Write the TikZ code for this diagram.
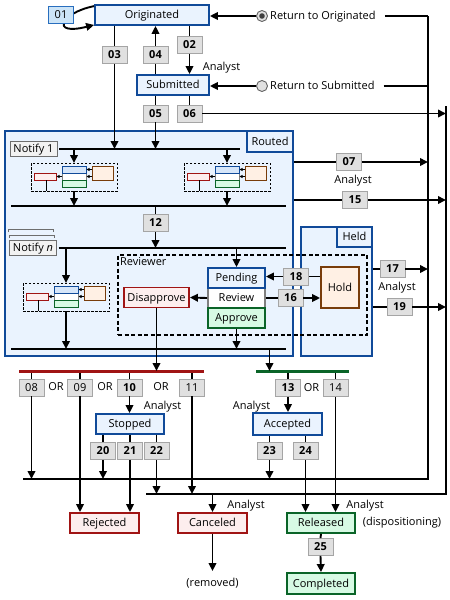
\documentclass[tikz,border=0pt]{standalone}
\usepackage{fontspec}
\setmainfont{Open Sans}
\usetikzlibrary{arrows.meta}

\definecolor{stblue}{RGB}{16,74,153}
\definecolor{stfill}{RGB}{234,243,254}
\definecolor{numline}{RGB}{165,165,165}
\definecolor{numfill}{RGB}{224,224,224}
\definecolor{oneline}{RGB}{40,110,190}
\definecolor{onefill}{RGB}{204,228,247}
\definecolor{rdline}{RGB}{160,20,20}
\definecolor{rdfill}{RGB}{253,238,238}
\definecolor{gnline}{RGB}{10,100,40}
\definecolor{gnfill}{RGB}{215,250,228}
\definecolor{orline}{RGB}{120,60,10}
\definecolor{orfill}{RGB}{255,240,228}
\definecolor{blfill}{RGB}{214,230,250}
\definecolor{nfline}{RGB}{110,110,110}
\definecolor{nffill}{RGB}{242,242,242}
\definecolor{radline}{RGB}{100,100,100}
\definecolor{radfill}{RGB}{225,225,225}

\newcommand{\dgfont}{\fontsize{11}{13}\selectfont}

\tikzset{
  txt/.style={font=\dgfont, inner sep=1pt, text height=8pt, text depth=1.5pt},
  state/.style={draw=stblue, fill=stfill, line width=1.8pt, minimum height=20, inner sep=0pt, font=\dgfont, text height=8pt, text depth=1pt},
  redst/.style={state, draw=rdline, fill=rdfill, minimum width=69},
  grnst/.style={state, draw=gnline, fill=gnfill, minimum width=68},
  revst/.style={state, draw=gray, fill=white, minimum width=57},
  cont/.style={draw=stblue, fill=stfill, line width=1.8pt, inner sep=0pt},
  tab/.style={cont, font=\dgfont, text height=8pt, text depth=1pt},
  revbox/.style={draw, line width=1.2pt, dash pattern=on 4pt off 2.5pt, inner sep=0pt},
  num/.style={draw=numline, fill=numfill, line width=0.9pt, minimum width=25, minimum height=17, inner sep=0pt, font=\dgfont\bfseries, text height=8pt, text depth=0.5pt},
  numl/.style={num, font=\dgfont},
  onebox/.style={num, draw=oneline, fill=onefill, font=\dgfont},
  nfybox/.style={draw=nfline, fill=nffill, line width=0.9pt, minimum width=47, minimum height=15, inner sep=0pt, outer sep=2pt, font=\dgfont, text height=8pt, text depth=1pt},
  card/.style={draw=nfline, line width=0.9pt},
  radio/.style={circle, draw=radline, fill=radfill, line width=0.9pt, minimum size=11, inner sep=0pt},
  conn/.style={line width=1.9pt},
  arr/.style={conn, -{Triangle[length=8pt,width=7.5pt]}},
  marr/.style={line width=0.8pt, -{Triangle[length=3pt,width=3pt]}},
  redbar/.style={draw=rdline, line width=3pt},
  grnbar/.style={draw=gnline, line width=3pt},
  mini/.pic={
    \draw[line width=0.9pt, dash pattern=on 2.5pt off 1.5pt] (-43,-14) rectangle (43,14);
    \draw[draw=rdline, fill=rdfill, line width=0.9pt] (-40,-4) rectangle (-18,3);
    \draw[draw=gray, fill=white, line width=0.9pt] (-12,-4) rectangle (12,3);
    \draw[draw=stblue, fill=blfill, line width=0.9pt] (-12,-11) rectangle (12,-4);
    \draw[draw=gnline, fill=gnfill, line width=0.9pt] (-12,3) rectangle (12,10);
    \draw[draw=orline, fill=orfill, line width=0.9pt] (18,-11) rectangle (39,3);
    \draw[marr] (18,-7.5) -- (12.5,-7.5);
    \draw[marr] (18,-0.5) -- (12.5,-0.5);
    \draw[marr] (-12,-0.5) -- (-17.5,-0.5);
    \draw[line width=0.8pt] (-28,3) -- (-28,14);
    \coordinate (-top) at (0,-14);
    \coordinate (-bot) at (0,14);
  }
}

\begin{document}
\begin{tikzpicture}[x=1pt,y=-1pt]
  \useasboundingbox (0,0) rectangle (450,600);
  % containers
  \node[cont, minimum width=288, minimum height=225] (routed) at (149,243.5) {};
  \node[tab, minimum width=46, minimum height=21] (routedtab) at (270,141.5) {Routed};
  \node[cont, minimum width=71, minimum height=129] (held) at (336.5,291.5) {};
  \node[tab, minimum width=35, minimum height=20] (heldtab) at (354.5,237) {Held};
  \node[revbox, minimum width=249, minimum height=80] (reviewer) at (242.5,295) {};
  \node[txt, anchor=north west] (revlabel) at (119,256) {Reviewer};

  % buses
  \coordinate (busL) at (428,16);
  \coordinate (busR) at (446,106);
  \coordinate (busU) at (23,479);
  \coordinate (busD) at (146,494);
  \coordinate (l1b) at (240,149);
  \coordinate (l2a) at (11,206);
  \coordinate (l2b) at (286,206);
  \coordinate (l3b) at (286,248);
  \coordinate (l4a) at (11,349);
  \coordinate (l4b) at (286,349);
  \coordinate (redA) at (19,371);
  \coordinate (redB) at (204,371);
  \coordinate (grnA) at (256,371);
  \coordinate (grnB) at (349,371);

  % states
  \node[state, minimum width=114] (orig) at (152,15) {Originated};
  \node[state, minimum width=72] (sub) at (173,85) {Submitted};
  \node[revst] (rev) at (236.5,298) {Review};
  \node[state, minimum width=57] (pend) at (236.5,278) {Pending};
  \node[grnst, minimum width=57] (appr) at (236.5,318) {Approve};
  \node[redst, minimum width=65] (disap) at (156.5,297.5) {Disapprove};
  \node[state, draw=orline, fill=orfill, minimum width=38, minimum height=41] (hold) at (340,287.5) {Hold};
  \node[state, minimum width=68] (stop) at (130,424) {Stopped};
  \node[state, minimum width=69, minimum height=22] (acc) at (287.5,424) {Accepted};
  \node[redst] (rej) at (104.5,523) {Rejected};
  \node[redst] (canc) at (212.5,523) {Canceled};
  \node[grnst] (rel) at (321,523) {Released};
  \node[grnst, minimum height=21] (compl) at (321,583.5) {Completed};

  % notify
  \node[nfybox] (nfy1) at (33.5,149) {Notify 1};
  \draw[card] (8,232) -- (8,229) -- (53,229) -- (53,232);
  \draw[card] (9,238) -- (9,235) -- (54,235) -- (54,238);
  \node[nfybox] (nfyn) at (33,248) {Notify \textit{n}};
  \pic (m1) at (74,177) {mini};
  \pic (m2) at (227,177) {mini};
  \pic (m3) at (66,297) {mini};

  % numbers
  \node[num] (n02) at (189.5,45) {02};
  \node[num] (n03) at (114.5,55) {03};
  \node[num] (n04) at (155.5,55) {04};
  \node[num] (n05) at (155.5,113.5) {05};
  \node[num] (n06) at (189.5,113.5) {06};
  \node[num] (n07) at (349,162) {07};
  \node[num] (n15) at (355,200) {15};
  \node[num] (n12) at (155.5,223) {12};
  \node[num] (n18) at (296,276.5) {18};
  \node[num] (n16) at (290.5,298) {16};
  \node[num] (n17) at (392.5,269) {17};
  \node[num] (n19) at (399.5,307) {19};
  \node[numl] (n08) at (31.5,387.5) {08};
  \node[numl] (n09) at (80,387.5) {09};
  \node[num] (n10) at (129.5,387.5) {10};
  \node[numl] (n11) at (192,387.5) {11};
  \node[num] (n13) at (288,388) {13};
  \node[numl] (n14) at (335.5,388) {14};
  \node[num] (n20) at (103,451) {20};
  \node[num] (n21) at (130,451) {21};
  \node[num] (n22) at (156.5,451) {22};
  \node[num] (n23) at (269.5,451) {23};
  \node[num] (n24) at (305.5,451) {24};
  \node[num] (n25) at (320.5,547) {25};

  % top
  \draw[arr] ([yshift=-2pt]orig.north west) .. controls (60,13) and (50,36) .. ([yshift=1pt]orig.south west);
  \node[onebox] (n01) at (61,15) {01};
  \draw[conn] (orig.south -| n02) -- (n02.north);
  \draw[arr] (n02.south) -- (sub.north -| n02);
  \draw[conn] (orig.south -| n03) -- (n03.north);
  \draw[arr] (n03.south) -- (n03 |- l1b);
  \draw[conn] (sub.north -| n04) -- (n04.south);
  \draw[arr] (n04.north) -- (orig.south -| n04);
  \draw[conn] (sub.south -| n05) -- (n05.north);
  \draw[arr] (n05.south) -- (n05 |- l1b);
  \draw[conn] (sub.south -| n06) -- (n06.north);
  \draw[arr] (n06.east) -- (n06 -| busR);
  \node[txt] (an1) at (221.5,67) {Analyst};

  % return
  \node[radio] (rad1) at (262,16) {};
  \fill[black!75] (rad1.center) circle (2.8);
  \node[radio] (rad2) at (262,86) {};
  \node[txt, anchor=west] (retO) at (269,16) {Return to Originated};
  \node[txt, anchor=west] (retS) at (269,86) {Return to Submitted};
  \draw[arr] (rad1.west) -- (orig.east |- rad1);
  \draw[arr] (rad2.west) -- (sub.east |- rad2);
  \draw[conn, shorten <=8pt] (retO.east) -- (busL);
  \draw[conn, shorten <=8pt] (retS.east) -- (retS -| busL);
  \draw[conn] (busL) -- (busL |- busU) -- (busU);
  \draw[conn] (busR) -- (busR |- busD) -- (busD);

  % routed
  \draw[conn] (nfy1.east) -- (l1b);
  \draw[arr] (m1-top |- l1b) -- (m1-top);
  \draw[arr] (m2-top |- l1b) -- (m2-top);
  \draw[arr] (m1-bot) -- (m1-bot |- l2a);
  \draw[arr] (m2-bot) -- (m2-bot |- l2a);
  \draw[conn] (l2a) -- (l2b);
  \draw[conn] (n12 |- l2a) -- (n12.north);
  \draw[arr] (n12.south) -- (n12 |- l3b);
  \draw[conn] (nfyn.east) -- (l3b);
  \draw[arr] (m3-top |- l3b) -- (m3-top);
  \draw[arr] (pend.north |- l3b) -- (pend.north);
  \draw[arr] (m3-bot) -- (m3-bot |- l4a);
  \draw[arr] (appr.south) -- (appr |- l4a);
  \draw[conn] (l4a) -- (l4b);
  \draw[arr] (rev.west) -- (disap.east);
  \draw[conn] (hold.west |- n18) -- (n18.east);
  \draw[arr] (n18.west) -- (pend.east |- n18);
  \draw[conn] (rev.east) -- (n16.west);
  \draw[arr] (n16.east) -- (hold.west |- n16);

  % right side
  \draw[conn] (routed.east |- n07) -- (n07.west);
  \draw[arr] (n07.east) -- (n07 -| busL);
  \node[txt] (an2) at (353,180) {Analyst};
  \draw[conn] (routed.east |- n15) -- (n15.west);
  \draw[arr] (n15.east) -- (n15 -| busR);
  \draw[conn] (held.east |- n17) -- (n17.west);
  \draw[arr] (n17.east) -- (n17 -| busL);
  \node[txt] (an3) at (397,287) {Analyst};
  \draw[conn] (held.east |- n19) -- (n19.west);
  \draw[arr] (n19.east) -- (n19 -| busR);

  % bottom
  \foreach \n in {n08,n09,n10,n11} \draw[conn] (\n.north |- redA) -- (\n.north);
  \foreach \n in {n13,n14} \draw[conn] (\n.north |- grnA) -- (\n.north);
  \draw[redbar] (redA) -- (redB);
  \draw[grnbar] (grnA) -- (grnB);
  \draw[arr] (disap.south) -- (disap |- redA);
  \draw[arr] (n23 |- l4a) -- (n23 |- grnA);
  \node[txt] (or1) at (56,387.5) {OR};
  \node[txt] (or2) at (105,387.5) {OR};
  \node[txt] (or3) at (161,387.5) {OR};
  \node[txt] (or4) at (311.5,388) {OR};
  \draw[arr] (n08.south) -- (n08 |- busU);
  \draw[arr] (n09.south) -- (rej.north -| n09);
  \draw[arr] (n10.south) -- (stop.north -| n10);
  \draw[arr] (n11.south) -- (n11 |- busD);
  \node[txt] (an4) at (162.5,406) {Analyst};
  \draw[conn] (stop.south -| n20) -- (n20.north);
  \draw[conn] (stop.south -| n21) -- (n21.north);
  \draw[conn] (stop.south -| n22) -- (n22.north);
  \draw[arr] (n20.south) -- (n20 |- busU);
  \draw[arr] (n21.south) -- (rej.north -| n21);
  \draw[arr] (n22.south) -- (n22 |- busD);
  \draw[arr] (n13.south) -- (acc.north -| n13);
  \node[txt] (an5) at (251.5,406) {Analyst};
  \draw[conn] (acc.south -| n23) -- (n23.north);
  \draw[conn] (acc.south -| n24) -- (n24.north);
  \draw[arr] (n23.south) -- (n23 |- busU);
  \draw[arr] (n24.south) -- (rel.north -| n24);
  \draw[arr] (n14.south) -- (rel.north -| n14);
  \draw[arr] (canc.north |- busD) -- (canc.north);
  \node[txt] (an6) at (246,505) {Analyst};
  \node[txt] (an7) at (365,505) {Analyst};
  \node[txt] (disp) at (402,522) {(dispositioning)};
  \node[txt] (removed) at (212.5,583) {(removed)};
  \draw[arr, shorten >=6pt] (canc.south) -- (removed.north);
  \draw[conn] (rel.south) -- (n25.north);
  \draw[arr] (n25.south) -- (compl.north);
\end{tikzpicture}
\end{document}
